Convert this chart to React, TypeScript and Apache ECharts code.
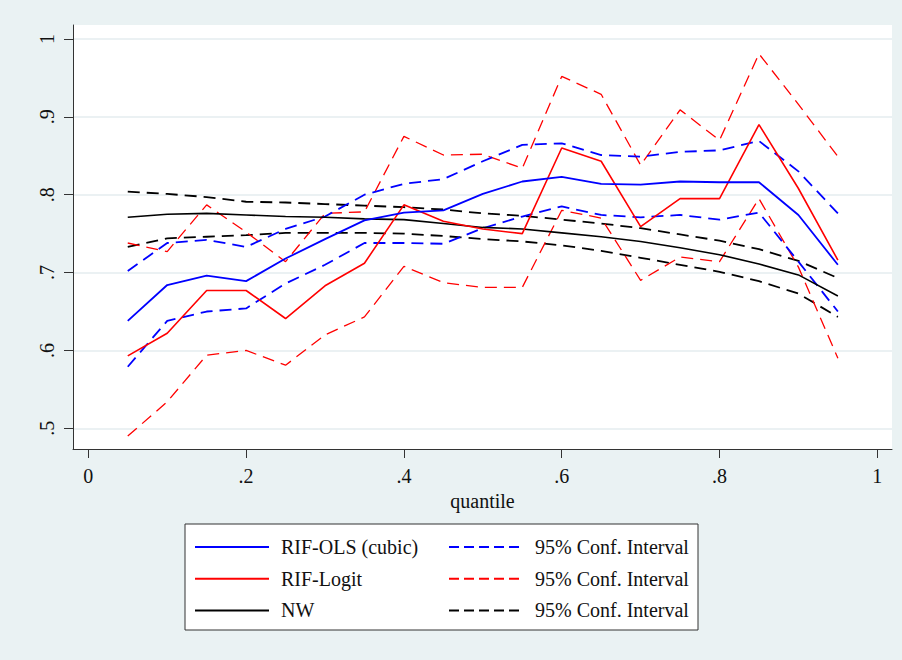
import React, { useEffect, useRef } from "react";
import * as echarts from "echarts";

const quantiles = [0.05, 0.1, 0.15, 0.2, 0.25, 0.3, 0.35, 0.4, 0.45, 0.5, 0.55, 0.6, 0.65, 0.7, 0.75, 0.8, 0.85, 0.9, 0.95];

const olsCubic = [0.638, 0.684, 0.696, 0.689, 0.718, 0.743, 0.767, 0.777, 0.780, 0.801, 0.817, 0.823, 0.814, 0.813, 0.817, 0.816, 0.816, 0.774, 0.710];
const olsUpper = [0.702, 0.738, 0.742, 0.733, 0.756, 0.772, 0.800, 0.814, 0.820, 0.843, 0.864, 0.866, 0.851, 0.849, 0.855, 0.857, 0.869, 0.830, 0.776];
const olsLower = [0.579, 0.638, 0.650, 0.654, 0.686, 0.710, 0.738, 0.738, 0.737, 0.757, 0.772, 0.785, 0.774, 0.771, 0.774, 0.768, 0.777, 0.714, 0.650];

const logit = [0.593, 0.622, 0.677, 0.677, 0.641, 0.683, 0.712, 0.787, 0.766, 0.756, 0.750, 0.860, 0.843, 0.759, 0.795, 0.795, 0.890, 0.808, 0.716];
const logitUpper = [0.738, 0.727, 0.787, 0.752, 0.714, 0.776, 0.778, 0.875, 0.851, 0.852, 0.834, 0.952, 0.929, 0.838, 0.909, 0.870, 0.981, 0.916, 0.849];
const logitLower = [0.490, 0.534, 0.594, 0.600, 0.581, 0.620, 0.643, 0.708, 0.687, 0.681, 0.681, 0.780, 0.770, 0.690, 0.720, 0.714, 0.795, 0.707, 0.590];

const nw = [0.771, 0.775, 0.776, 0.774, 0.772, 0.771, 0.769, 0.768, 0.763, 0.758, 0.756, 0.751, 0.746, 0.740, 0.732, 0.723, 0.711, 0.697, 0.670];
const nwUpper = [0.804, 0.801, 0.797, 0.791, 0.790, 0.788, 0.786, 0.784, 0.781, 0.776, 0.773, 0.768, 0.763, 0.757, 0.749, 0.741, 0.730, 0.715, 0.693];
const nwLower = [0.733, 0.744, 0.746, 0.748, 0.751, 0.751, 0.751, 0.750, 0.747, 0.743, 0.740, 0.735, 0.728, 0.719, 0.710, 0.701, 0.689, 0.673, 0.643];

const xTicks = [0, 0.2, 0.4, 0.6, 0.8, 1];
const yTicks = [0.5, 0.6, 0.7, 0.8, 0.9, 1];

const mainNames = ["RIF-OLS (cubic)", "RIF-Logit", "NW"];
const ciNames = ["ci_ols", "ci_logit", "ci_nw"];
const ciLabel = "95% Conf. Interval";

const FONT = '"Liberation Serif", "Times New Roman", serif';

const fmtTick = (v: number) => {
  const s = (Math.round(v * 10) / 10).toString();
  return s.startsWith("0.") ? s.slice(1) : s;
};

const pair = (ys: number[]) => quantiles.map((q, i) => [q, ys[i]]);

export default function App() {
  const ref = useRef<HTMLDivElement>(null);

  useEffect(() => {
    if (!ref.current) return;
    const chart = echarts.init(ref.current, undefined, { renderer: "svg" });
    const mk = (name: string, data: number[], color: string, width: number, dashed: boolean) => ({
      name,
      type: "line",
      data: pair(data),
      symbol: "none",
      showSymbol: false,
      silent: true,
      lineStyle: { color, width, type: dashed ? [12, 7] : "solid" },
      itemStyle: { color },
      z: dashed ? 3 : 4,
    });
    const legendCommon = {
      orient: "vertical",
      top: 537,
      itemWidth: 74,
      itemHeight: 14,
      itemGap: 11.7,
      padding: 0,
      selectedMode: false,
      z: 6,
      itemStyle: { color: "transparent", borderWidth: 0, opacity: 0 },
      textStyle: { fontSize: 20, fontFamily: FONT, color: "#111", padding: [0, 0, 0, 7], lineHeight: 20 },
    };
    chart.setOption({
      animation: false,
      backgroundColor: "#eaf2f3",
      grid: {
        left: 73,
        top: 25,
        right: 10,
        bottom: 211,
        show: true,
        backgroundColor: "#ffffff",
        borderWidth: 0,
        containLabel: false,
      },
      xAxis: {
        type: "value",
        min: -0.0194,
        max: 1.0186,
        name: "quantile",
        nameLocation: "middle",
        nameGap: 37,
        nameTextStyle: { fontSize: 20, fontFamily: FONT, color: "#111" },
        axisLine: { show: true, onZero: false, lineStyle: { color: "#333", width: 1 } },
        axisTick: { show: true, customValues: xTicks, length: 9, lineStyle: { color: "#333" } },
        axisLabel: {
          customValues: xTicks,
          formatter: fmtTick,
          fontSize: 20,
          fontFamily: FONT,
          color: "#111",
          margin: 17,
        },
        splitLine: { show: false },
      },
      yAxis: {
        type: "value",
        min: 0.4734,
        max: 1.018,
        axisLine: { show: true, onZero: false, lineStyle: { color: "#333", width: 1 } },
        axisTick: { show: true, customValues: yTicks, length: 9, lineStyle: { color: "#333" } },
        axisLabel: {
          customValues: yTicks,
          formatter: fmtTick,
          rotate: 90,
          fontSize: 20,
          fontFamily: FONT,
          color: "#111",
          margin: 16,
        },
        splitLine: { show: true, lineStyle: { color: "#e4edef", width: 1.5 } },
      },
      legend: [
        { ...legendCommon, left: 194, data: mainNames },
        {
          ...legendCommon,
          left: 448,
          data: ciNames,
          formatter: () => ciLabel,
          lineStyle: { type: [10, 5] },
        },
      ],
      graphic: [
        {
          type: "rect",
          z: 1,
          shape: { x: 185, y: 524, width: 513, height: 106 },
          style: { fill: "#ffffff", stroke: "#333", lineWidth: 1 },
        },
      ],
      series: [
        mk("ci_nw", nwUpper, "#000000", 1.8, true),
        mk("ci_nw", nwLower, "#000000", 1.8, true),
        mk("ci_logit", logitUpper, "#ff0000", 1.3, true),
        mk("ci_logit", logitLower, "#ff0000", 1.3, true),
        mk("ci_ols", olsUpper, "#0000ff", 1.8, true),
        mk("ci_ols", olsLower, "#0000ff", 1.8, true),
        mk("NW", nw, "#000000", 1.6, false),
        mk("RIF-Logit", logit, "#ff0000", 1.6, false),
        mk("RIF-OLS (cubic)", olsCubic, "#0000ff", 1.8, false),
      ],
    });
    return () => chart.dispose();
  }, []);

  return (
    <div
      ref={ref}
      style={{ position: "fixed", left: 0, top: 0, width: 902, height: 660 }}
    />
  );
}
